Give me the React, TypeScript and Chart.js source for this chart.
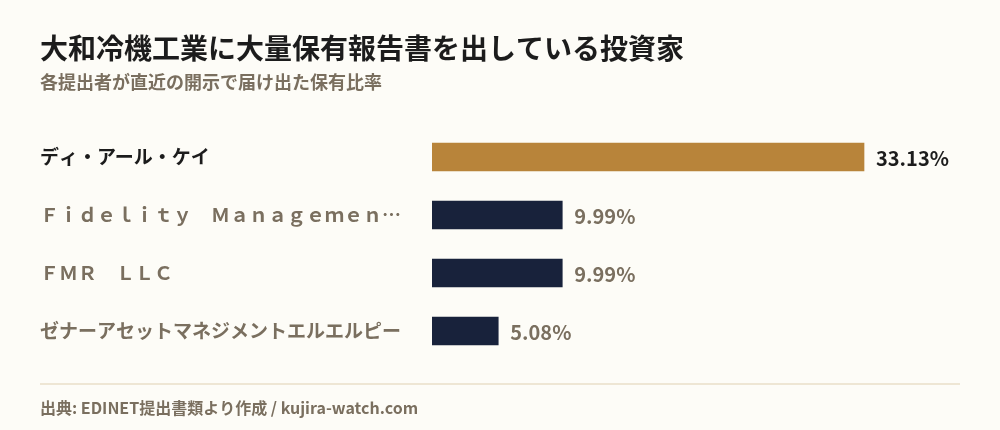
import React, { useEffect, useRef } from "react";
import { Chart, registerables } from "chart.js";

Chart.register(...registerables);

const TITLE = "大和冷機工業に大量保有報告書を出している投資家";
const SUBTITLE = "各提出者が直近の開示で届け出た保有比率";
const FOOTER = "出典: EDINET提出書類より作成 / kujira-watch.com";

const investors = [
  "ディ・アール・ケイ",
  "Ｆｉｄｅｌｉｔｙ　Ｍａｎａｇｅｍｅｎ…",
  "ＦＭＲ　ＬＬＣ",
  "ゼナーアセットマネジメントエルエルピー",
];
const holdingRatios = [33.13, 9.99, 9.99, 5.08];
const valueLabels = ["33.13%", "9.99%", "9.99%", "5.08%"];

const FONT = '"Noto Sans CJK JP", "Noto Sans", sans-serif';
const BG = "#fdfcf7";
const DARK = "#1c1c1c";
const GRAY = "#7a6f5f";
const GOLD = "#b8843a";
const NAVY = "#18223b";

export default function App() {
  const ref = useRef<HTMLCanvasElement | null>(null);

  useEffect(() => {
    if (!ref.current) return;

    const textPlugin = {
      id: "texts",
      beforeDraw(chart: any) {
        const { ctx, width, height } = chart;
        ctx.save();
        ctx.fillStyle = BG;
        ctx.fillRect(0, 0, width, height);
        ctx.textAlign = "left";
        ctx.textBaseline = "middle";
        ctx.fillStyle = DARK;
        ctx.font = `bold 28px ${FONT}`;
        ctx.fillText(TITLE, 40, 48);
        ctx.fillStyle = GRAY;
        ctx.font = `bold 18px ${FONT}`;
        ctx.fillText(SUBTITLE, 40, 82);
        ctx.strokeStyle = "#e8dfc9";
        ctx.lineWidth = 1.5;
        ctx.beginPath();
        ctx.moveTo(40, 384);
        ctx.lineTo(960, 384);
        ctx.stroke();
        ctx.fillStyle = GRAY;
        ctx.font = `bold 16px ${FONT}`;
        ctx.fillText(FOOTER, 40, 408);
        ctx.restore();
      },
      afterDatasetsDraw(chart: any) {
        const { ctx } = chart;
        const meta = chart.getDatasetMeta(0);
        ctx.save();
        ctx.textAlign = "left";
        ctx.textBaseline = "middle";
        ctx.font = `bold 20px ${FONT}`;
        meta.data.forEach((bar: any, i: number) => {
          ctx.fillStyle = i === 0 ? DARK : GRAY;
          ctx.fillText(valueLabels[i], bar.x + 12, bar.y + 1);
        });
        ctx.restore();
      },
    };

    const chart = new Chart(ref.current, {
      type: "bar",
      data: {
        labels: investors,
        datasets: [
          {
            data: holdingRatios,
            backgroundColor: holdingRatios.map((_, i) => (i === 0 ? GOLD : NAVY)),
            barThickness: 28,
            borderWidth: 0,
          },
        ],
      },
      options: {
        indexAxis: "y",
        animation: false,
        responsive: false,
        maintainAspectRatio: false,
        layout: { padding: { top: 128, bottom: 70, left: 40, right: 46.4 } },
        plugins: {
          legend: { display: false },
          title: { display: false },
          tooltip: { enabled: false },
        },
        scales: {
          x: { display: false, min: 0, max: 40 },
          y: {
            grid: { display: false },
            border: { display: false },
            afterFit(scale: any) {
              scale.width = 392;
            },
            ticks: {
              crossAlign: "far",
              padding: 0,
              color: (c: any) => (c.index === 0 ? DARK : GRAY),
              font: { family: FONT, size: 19, weight: "bold" },
            },
          },
        },
      },
      plugins: [textPlugin],
    });
    return () => chart.destroy();
  }, []);

  return (
    <div style={{ position: "fixed", left: 0, top: 0, width: 1000, height: 430, background: BG }}>
      <canvas ref={ref} width={1000} height={430} style={{ display: "block" }} />
    </div>
  );
}
